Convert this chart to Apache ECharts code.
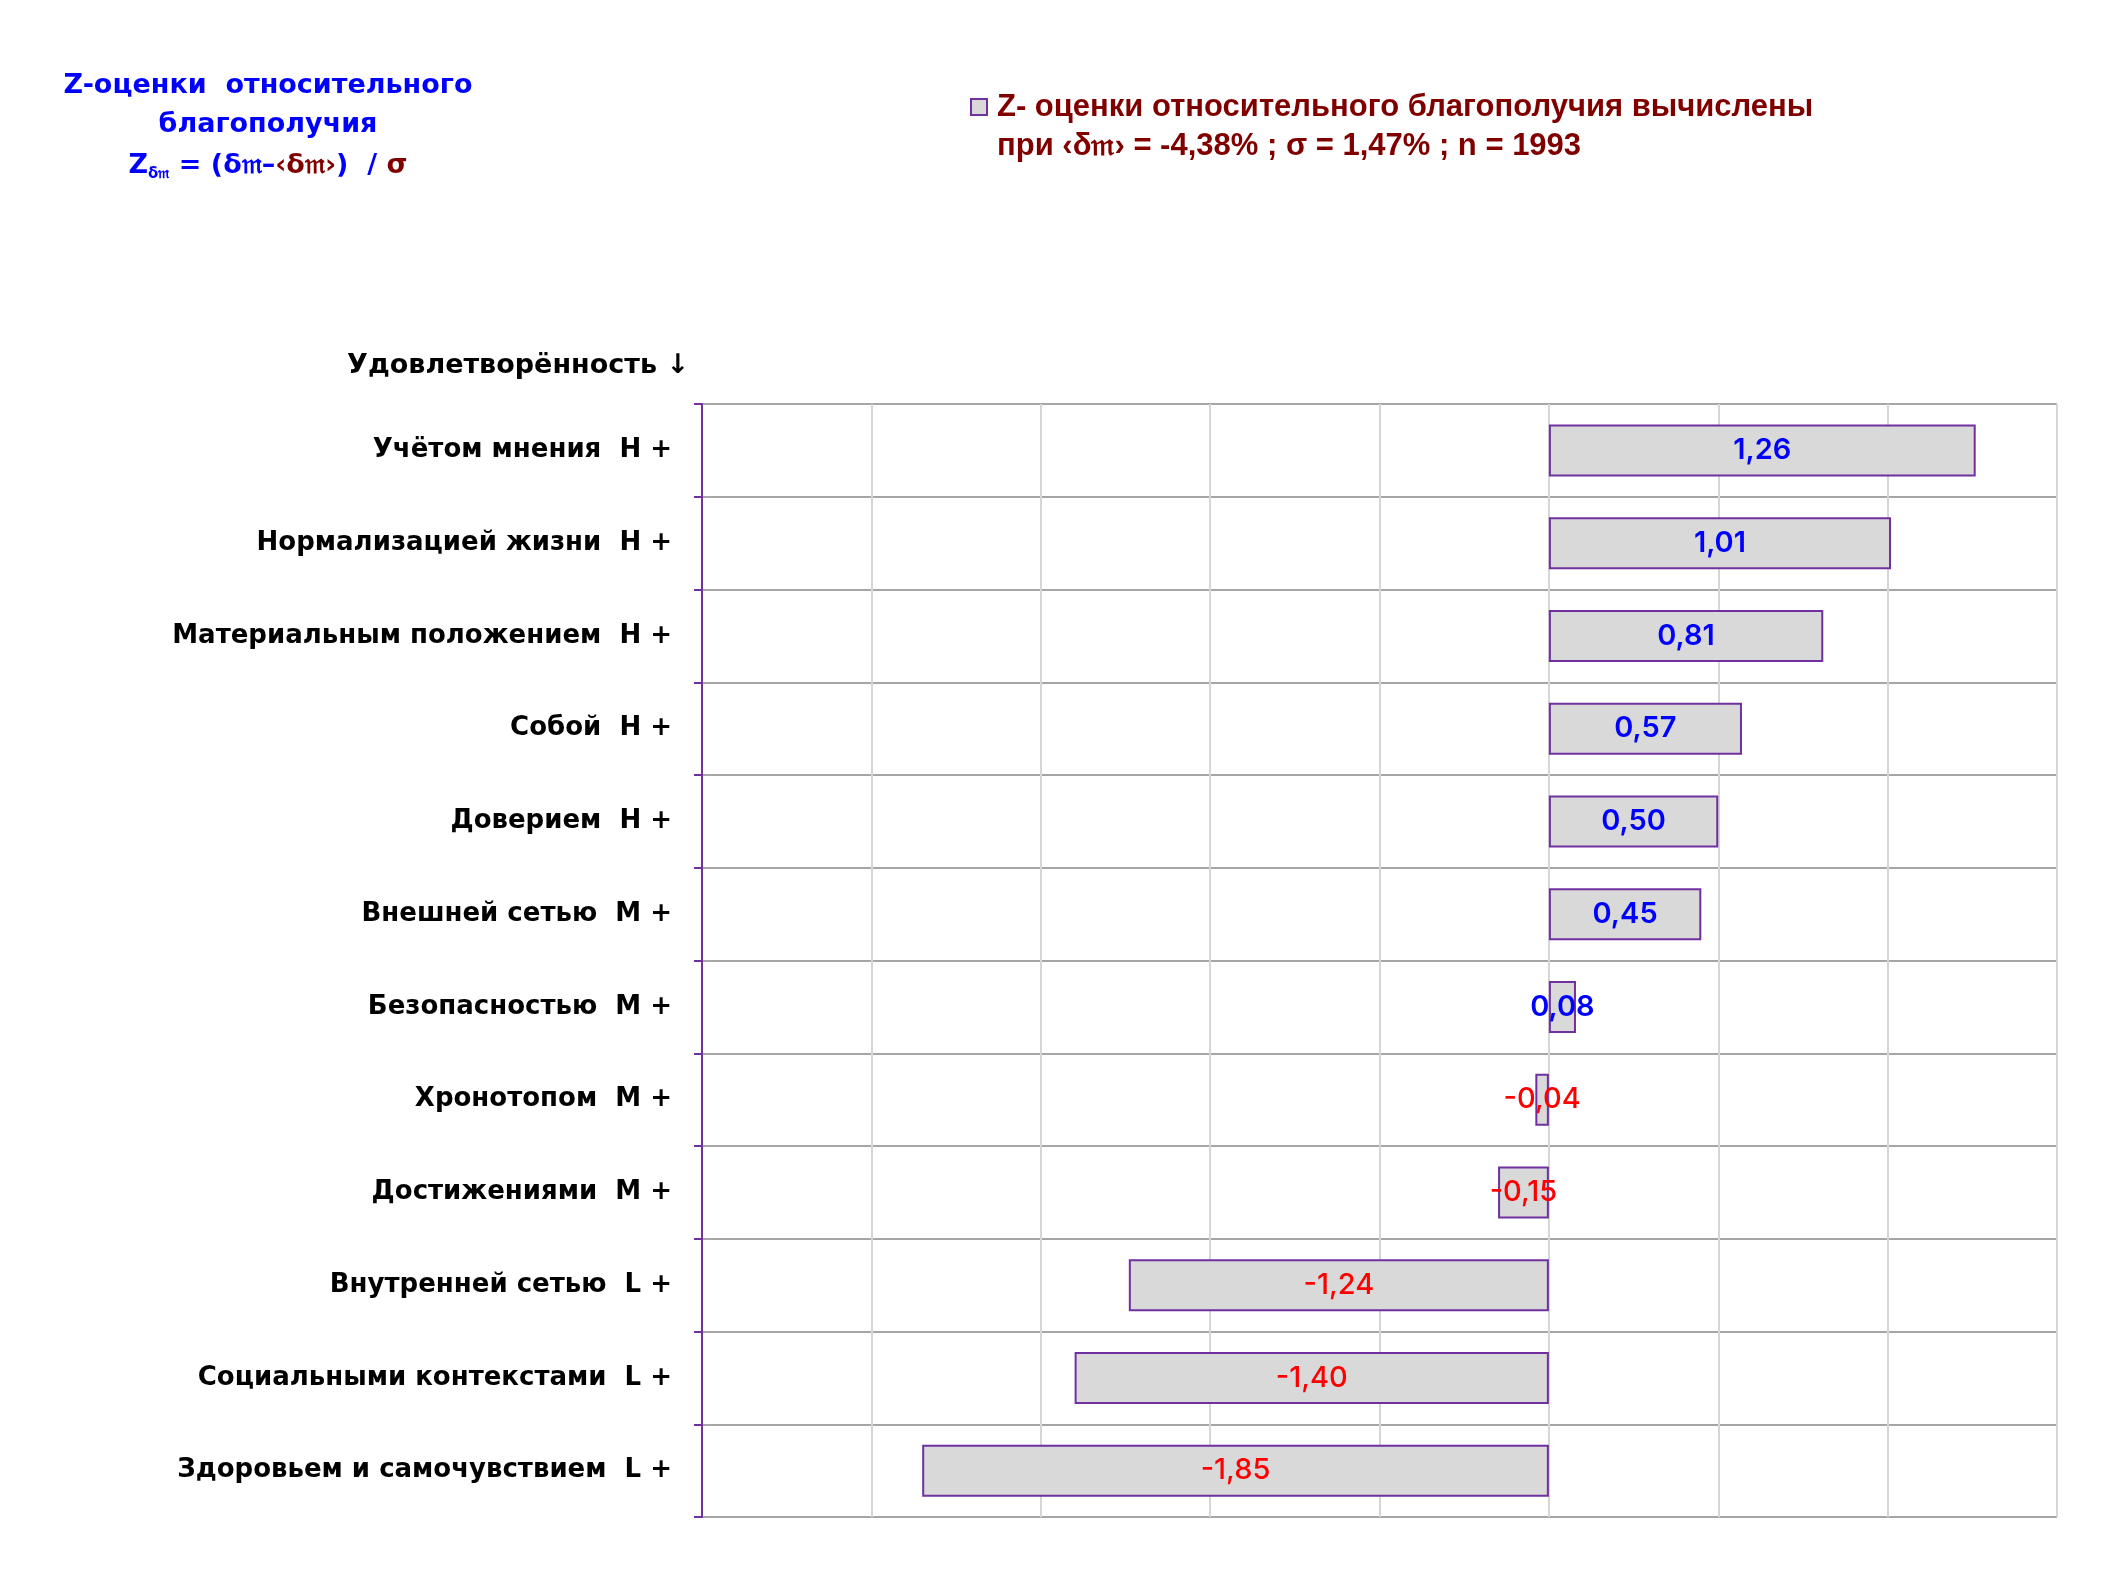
<!DOCTYPE html>
<html>
<head>
<meta charset="utf-8">
<script src="https://cdn.jsdelivr.net/npm/echarts@6/dist/echarts.min.js"></script>
<style>
html,body{margin:0;padding:0;background:#fff;}
#chart{width:2126px;height:1595px;}
</style>
</head>
<body>
<div id="chart"></div>
<script>
const categories = [
  "Учётом мнения  Н +",
  "Нормализацией жизни  Н +",
  "Материальным положением  Н +",
  "Собой  Н +",
  "Доверием  Н +",
  "Внешней сетью  М +",
  "Безопасностью  М +",
  "Хронотопом  М +",
  "Достижениями  М +",
  "Внутренней сетью  L +",
  "Социальными контекстами  L +",
  "Здоровьем и самочувствием  L +"
];
const zValues = [1.26, 1.01, 0.81, 0.57, 0.50, 0.45, 0.08, -0.04, -0.15, -1.24, -1.40, -1.85];
const axisMin = -2.5, axisMax = 1.5, axisStep = 0.5;

const FONT = "Inter, Roboto, sans-serif";
const WIDE = "'DejaVu Sans', sans-serif";
const NARROW = "'Liberation Sans Narrow', 'Liberation Sans', sans-serif";
const fmt = v => v.toFixed(2).replace('.', ',');

const chart = echarts.init(document.getElementById('chart'));
const dataItems = zValues.map(v => ({
  value: v,
  label: v >= 0
    ? {color: '#0000ff', fontWeight: 600, fontFamily: FONT, fontSize: 29}
    : {color: '#ff0000', fontWeight: 500, fontFamily: FONT, fontSize: 29}
}));

chart.setOption({
  backgroundColor: '#ffffff',
  animation: false,
  grid: {left: 702, right: 69, top: 404, bottom: 78, containLabel: false},
  xAxis: {
    type: 'value', min: axisMin, max: axisMax, interval: axisStep,
    axisLabel: {show: false}, axisTick: {show: false},
    axisLine: {show: false},
    splitLine: {show: true, lineStyle: {color: '#d6d6d6', width: 2}}
  },
  yAxis: {
    type: 'category', data: categories, inverse: true,
    axisLine: {show: true, onZero: false, lineStyle: {color: '#7030a0', width: 2}},
    axisTick: {show: true, length: 8, lineStyle: {color: '#7030a0', width: 2}},
    axisLabel: {color: '#000', fontSize: 26, fontWeight: 'bold', fontFamily: WIDE, margin: 30},
    splitLine: {show: true, lineStyle: {color: '#a6a6a6', width: 2}}
  },
  series: [{
    type: 'bar', name: 'Z- оценки относительного благополучия',
    data: dataItems, barWidth: 52,
    itemStyle: {color: '#d9d9d9', borderColor: '#7030a0', borderWidth: 2},
    label: {show: true, position: 'inside', formatter: p => fmt(p.value)}
  }],
  graphic: [
    {type: 'text', style: {x: 268, y: 86, text: 'Z-оценки  относительного', fill: '#0000ff', font: 'bold 27px ' + WIDE, align: 'center', verticalAlign: 'middle'}},
    {type: 'text', style: {x: 268, y: 125, text: 'благополучия', fill: '#0000ff', font: 'bold 27px ' + WIDE, align: 'center', verticalAlign: 'middle'}},
    {type: 'text', style: {x: 268, y: 166, align: 'center', verticalAlign: 'middle',
      text: '{b|Z}{s|δ𝔪}{b| = (δ𝔪–}{r|‹δ𝔪›}{b|)  / }{r|σ}',
      rich: {
        b: {fill: '#0000ff', font: 'bold 27px ' + WIDE},
        s: {fill: '#0000ff', font: 'bold 15px ' + WIDE, padding: [16, 0, 0, 0]},
        r: {fill: '#800000', font: 'bold 27px ' + WIDE}
      }}},
    {type: 'rect', shape: {x: 971, y: 99, width: 16, height: 16}, style: {fill: '#d9d9d9', stroke: '#7030a0', lineWidth: 2}},
    {type: 'text', style: {x: 997, y: 107, text: 'Z- оценки относительного благополучия вычислены', fill: '#800000', font: 'bold 31px ' + NARROW, align: 'left', verticalAlign: 'middle'}},
    {type: 'text', style: {x: 997, y: 146, text: 'при ‹δ𝔪› = -4,38% ; σ = 1,47% ; n = 1993', fill: '#800000', font: 'bold 31px ' + NARROW, align: 'left', verticalAlign: 'middle'}},
    {type: 'text', style: {x: 689, y: 366, text: 'Удовлетворённость ↓', fill: '#000', font: 'bold 27px ' + WIDE, align: 'right', verticalAlign: 'middle'}}
  ]
});
</script>
</body>
</html>
